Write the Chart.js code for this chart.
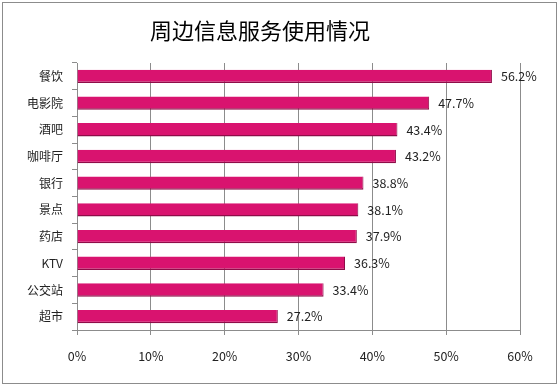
<!DOCTYPE html>
<html>
<head>
<meta charset="utf-8">
<script src="https://cdn.jsdelivr.net/npm/chart.js@4/dist/chart.umd.min.js"></script>
<style>
    html, body { margin: 0; padding: 0; background: #fff; }
    #wrap { position: relative; width: 559px; height: 386px; }
</style>
</head>
<body>
<div id="wrap"><canvas id="chart" width="559" height="386"></canvas></div>
<script>
const categories = ['餐饮', '电影院', '酒吧', '咖啡厅', '银行', '景点', '药店', 'KTV', '公交站', '超市'];
const usage = [56.2, 47.7, 43.4, 43.2, 38.8, 38.1, 37.9, 36.3, 33.4, 27.2];
const xTicks = [0, 10, 20, 30, 40, 50, 60];

const CJK = '"Noto Sans CJK SC", "Noto Sans", sans-serif';

// outer frame + value labels at the end of each bar
const framePlugin = {
    id: 'frame',
    beforeDraw(chart) {
        const { ctx } = chart;
        ctx.save();
        ctx.fillStyle = '#fff';
        ctx.fillRect(0, 0, chart.width, chart.height);
        ctx.strokeStyle = '#8c8c8c';
        ctx.lineWidth = 1;
        ctx.strokeRect(2.5, 2.5, chart.width - 5, chart.height - 5);
        ctx.restore();
    },
};

const valueLabels = {
    id: 'valueLabels',
    afterDatasetsDraw(chart) {
        const { ctx } = chart;
        const meta = chart.getDatasetMeta(0);
        ctx.save();
        ctx.font = '12.5px ' + CJK;
        ctx.fillStyle = '#222';
        ctx.textAlign = 'left';
        ctx.textBaseline = 'middle';
        meta.data.forEach((bar, i) => {
            ctx.fillText(usage[i].toFixed(1) + '%', bar.x + 9, bar.y);
        });
        ctx.restore();
    },
};

new Chart(document.getElementById('chart'), {
    type: 'bar',
    data: {
        labels: categories,
        datasets: [{
            data: usage,
            backgroundColor: '#d9136f',
            borderColor: '#8e0c48',
            borderWidth: { bottom: 1.5, right: 1 },
            borderSkipped: 'left',
            categoryPercentage: 1,
            barPercentage: 0.5,
        }],
    },
    options: {
        indexAxis: 'y',
        responsive: false,
        animation: false,
        layout: { padding: { left: 0, right: 39, top: 0, bottom: 0 } },
        plugins: {
            legend: { display: false },
            tooltip: { enabled: false },
            title: {
                display: true,
                text: '周边信息服务使用情况',
                color: '#000',
                font: { family: CJK, size: 22, weight: 'normal' },
                padding: { top: 17, bottom: 19.6 },
            },
        },
        scales: {
            x: {
                min: 0,
                max: 60,
                afterBuildTicks(axis) {
                    axis.ticks = xTicks.map((v) => ({ value: v }));
                },
                afterFit(axis) { axis.height = 56; },
                grid: { color: '#8c8c8c', tickLength: 5, drawOnChartArea: true },
                border: { color: '#8c8c8c' },
                ticks: {
                    color: '#222',
                    padding: 14,
                    font: { family: CJK, size: 12.5 },
                    callback: (v) => v + '%',
                },
            },
            y: {
                afterFit(axis) { axis.width = 77; },
                grid: { drawOnChartArea: false, color: '#8c8c8c', tickLength: 5 },
                border: { color: '#8c8c8c' },
                ticks: {
                    color: '#222',
                    padding: 9,
                    font: { family: CJK, size: 12 },
                },
            },
        },
    },
    plugins: [framePlugin, valueLabels],
});
</script>
</body>
</html>
